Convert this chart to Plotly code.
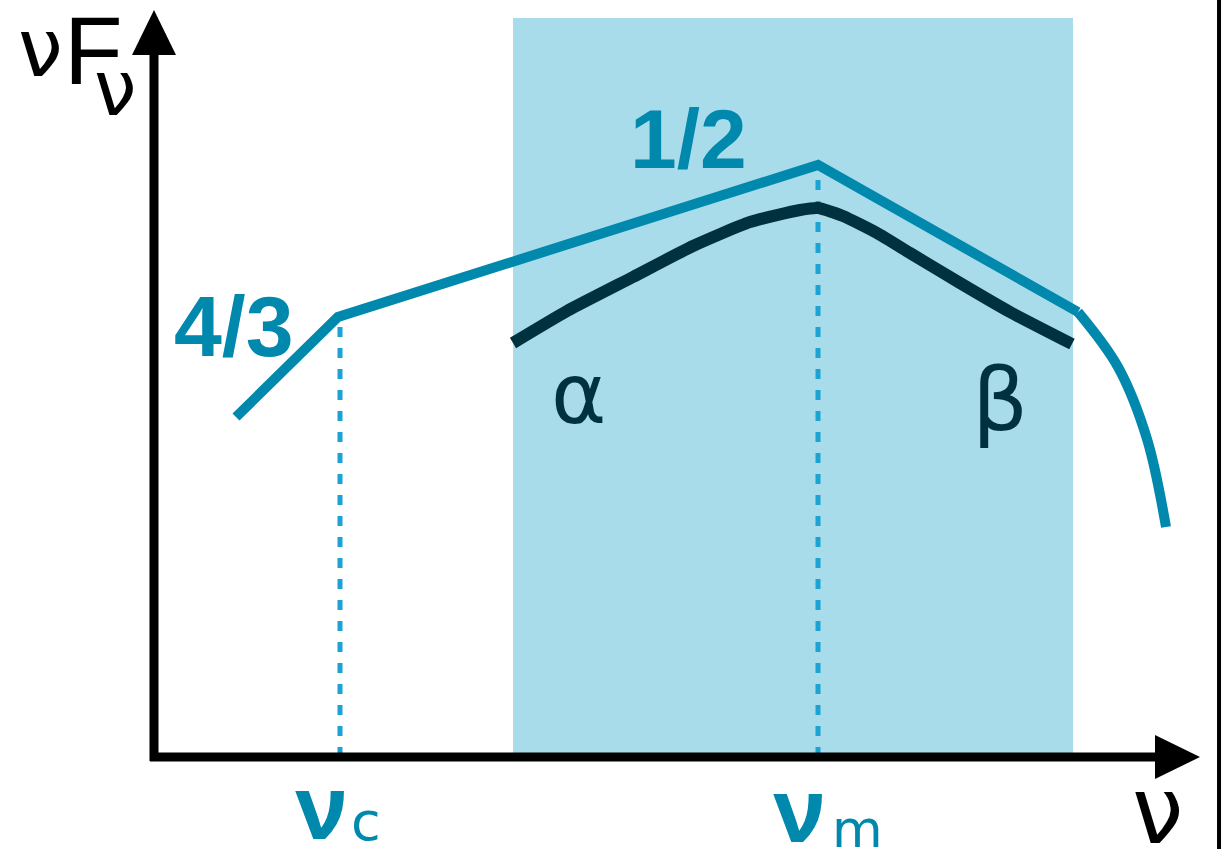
import plotly.graph_objects as go

# Canvas units: x = frequency (arbitrary, left to right), y = nu F_nu (arbitrary, upward)
W, H = 1227, 849

# Broken power-law model spectrum (blue)
model_x = [236, 338, 818, 1078]
model_y = [432, 532, 684, 537]
# High-energy cutoff of the model
cutoff_x = [1078, 1118, 1147, 1166]
cutoff_y = [537, 482, 410, 322]

# Smooth Band-like spectrum (dark)
band_x = [513, 567, 633, 693, 750, 800, 818, 843, 877, 910, 960, 1010, 1072]
band_y = [506, 538, 572, 603, 627, 639, 641, 633, 616, 596, 566, 537, 505]

# Characteristic break frequencies
nu_c = 340
nu_c_flux = 532
nu_m = 818
nu_m_flux = 684

# Observing window (shaded band)
band_lo, band_hi = 513, 1073
band_bottom, band_top = 96, 831

# Axis geometry
x0, y0 = 154, 92
x_end, y_end = 1200, 839

BLUE = "#0088ad"
DASH = "#1aa3d3"
DARK = "#00313f"
SHADE = "#a8dcea"

fig = go.Figure()

fig.add_trace(go.Scatter(x=model_x, y=model_y, mode="lines",
                         line=dict(color=BLUE, width=10), hoverinfo="skip"))
fig.add_trace(go.Scatter(x=cutoff_x, y=cutoff_y, mode="lines",
                         line=dict(color=BLUE, width=10, shape="spline", smoothing=1.0),
                         hoverinfo="skip"))
fig.add_trace(go.Scatter(x=band_x, y=band_y, mode="lines",
                         line=dict(color=DARK, width=12, shape="spline", smoothing=0.5),
                         hoverinfo="skip"))

shapes = [
    dict(type="rect", xref="x", yref="y", x0=band_lo, x1=band_hi,
         y0=band_bottom, y1=band_top, fillcolor=SHADE, line=dict(width=0),
         layer="below"),
    dict(type="line", xref="x", yref="y", x0=nu_c, x1=nu_c, y0=y0, y1=nu_c_flux,
         line=dict(color=DASH, width=5, dash="10px,11px"), layer="below"),
    dict(type="line", xref="x", yref="y", x0=nu_m, x1=nu_m, y0=y0, y1=nu_m_flux,
         line=dict(color=DASH, width=5, dash="10px,11px"), layer="below"),
    # axes with arrow heads
    dict(type="line", xref="x", yref="y", x0=x0, x1=x0, y0=y0 - 4, y1=y_end - 40,
         line=dict(color="black", width=9)),
    dict(type="path", xref="x", yref="y",
         path=f"M {x0-22},{y_end-45} L {x0+22},{y_end-45} L {x0},{y_end} Z",
         fillcolor="black", line=dict(width=0)),
    dict(type="line", xref="x", yref="y", x0=x0 - 4, x1=x_end - 40, y0=y0, y1=y0,
         line=dict(color="black", width=9)),
    dict(type="path", xref="x", yref="y",
         path=f"M {x_end-45},{y0+22} L {x_end-45},{y0-22} L {x_end},{y0} Z",
         fillcolor="black", line=dict(width=0)),
    # frame edge at right
    dict(type="line", xref="paper", yref="paper", x0=0.9935, x1=0.9935, y0=0, y1=1,
         line=dict(color="black", width=4)),
]

def label(x, y, text, size, color, family="DejaVu Sans", bold=False):
    return dict(x=x, y=y, xref="x", yref="y", text=f"<b>{text}</b>" if bold else text,
                showarrow=False, xanchor="center", yanchor="middle",
                font=dict(size=size, color=color, family=family))

annotations = [
    label(234, 523, "4/3", 86, BLUE, "Liberation Sans", True),
    label(688, 710, "1/2", 84, BLUE, "Liberation Sans", True),
    label(578, 455, "α", 84, DARK),
    label(1000, 450, "β", 88, DARK),
    # y-axis title  nu F_nu
    label(40, 801, "ν", 80, "black"),
    label(93, 799, "F", 96, "black", "Liberation Sans"),
    label(115, 761, "ν", 76, "black"),
    # x-axis title
    label(1157, 38, "ν", 92, "black"),
    # break frequency labels
    label(321, 44, "ν", 88, BLUE, "Open Sans", bold=True),
    label(366, 28, "c", 54, BLUE),
    label(799, 41, "ν", 88, BLUE, "Open Sans", bold=True),
    label(857, 20, "m", 52, BLUE),
]

fig.update_layout(
    width=W, height=H,
    margin=dict(l=0, r=0, t=0, b=0),
    paper_bgcolor="white", plot_bgcolor="white",
    showlegend=False,
    xaxis=dict(range=[0, W], visible=False, fixedrange=True),
    yaxis=dict(range=[0, H], visible=False, fixedrange=True),
    shapes=shapes,
    annotations=annotations,
)

fig.write_html("out.html")
